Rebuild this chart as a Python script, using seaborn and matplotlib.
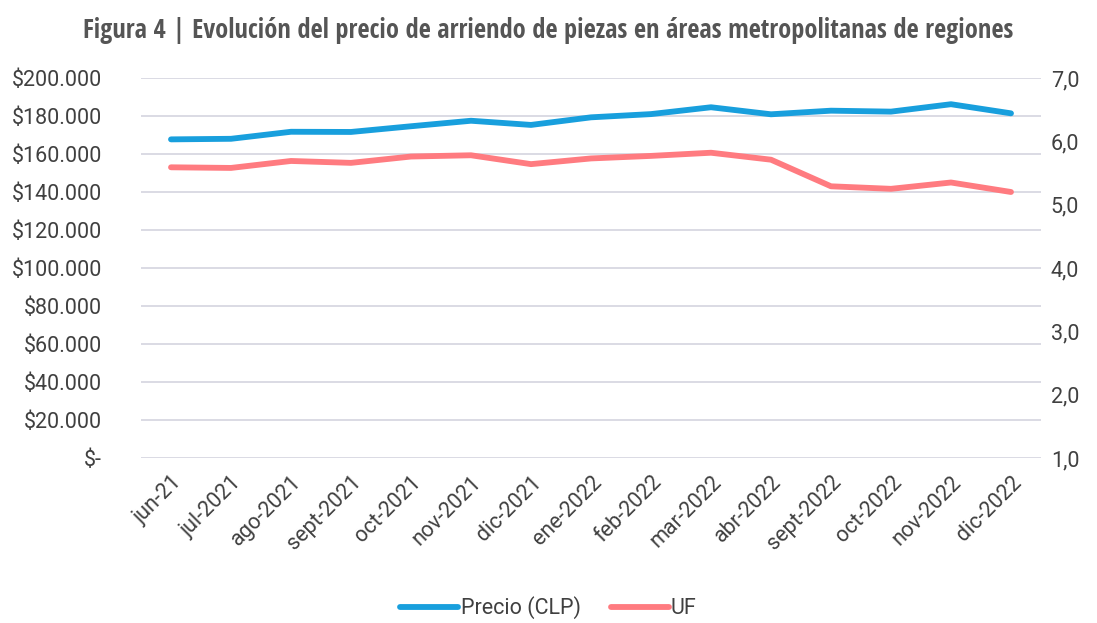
import numpy as np
import pandas as pd
import seaborn as sns
import matplotlib.pyplot as plt
from matplotlib.ticker import FuncFormatter
from matplotlib.lines import Line2D

# Data
meses = ['jun-21', 'jul-2021', 'ago-2021', 'sept-2021', 'oct-2021', 'nov-2021',
         'dic-2021', 'ene-2022', 'feb-2022', 'mar-2022', 'abr-2022', 'sept-2022',
         'oct-2022', 'nov-2022', 'dic-2022']
precio_clp = [167700, 168000, 171700, 171600, 174600, 177500, 175300, 179300,
              181000, 184600, 180900, 182800, 182300, 186200, 181400]
precio_uf = [5.59, 5.58, 5.69, 5.66, 5.76, 5.78, 5.64, 5.73, 5.77, 5.82,
             5.71, 5.29, 5.25, 5.35, 5.20]

azul = '#189FDD'
rojo = '#FF7B80'
gris = '#404040'

sns.set_theme(style='white')
plt.rcParams['font.family'] = ['Roboto', 'DejaVu Sans']

df = pd.DataFrame({'mes': meses, 'pos': np.arange(len(meses)),
                   'clp': precio_clp, 'uf': precio_uf})

fig = plt.figure(figsize=(10.97, 6.23), dpi=100)
ax = fig.add_axes([141 / 1097, 1 - 458 / 623, 900 / 1097, 380 / 623])
ax2 = ax.twinx()

sns.lineplot(data=df, x='pos', y='clp', ax=ax, color=azul, linewidth=4.2,
             solid_capstyle='round')
sns.lineplot(data=df, x='pos', y='uf', ax=ax2, color=rojo, linewidth=4.2,
             solid_capstyle='round')

ax.set_xlim(-0.5, len(meses) - 0.5)
ax.set_ylim(0, 200000)
ax.set_yticks(np.arange(0, 200001, 20000))
ax.yaxis.set_major_formatter(FuncFormatter(
    lambda v, p: '$-' if v == 0 else '${:,.0f}'.format(v).replace(',', '.')))
ax2.set_ylim(1, 7)
ax2.set_yticks(np.arange(1, 7.01, 1))
ax2.yaxis.set_major_formatter(FuncFormatter(
    lambda v, p: '{:.1f}'.format(v).replace('.', ',')))

ax.yaxis.grid(True, color='#D8D8E2', linewidth=1.3)
ax.set_axisbelow(True)
for a in (ax, ax2):
    for s in a.spines.values():
        s.set_visible(False)
    a.set_xlabel('')
    a.set_ylabel('')
    a.tick_params(length=0, labelsize=15.5, labelcolor=gris)
ax.tick_params(axis='y', pad=28)
ax2.tick_params(axis='y', pad=7)

ax.set_xticks(df['pos'])
ax.set_xticklabels(meses, rotation=45, ha='right', rotation_mode='anchor')
ax.tick_params(axis='x', pad=10)

fig.text(0.5, 1 - 30 / 623,
         'Figura 4 | Evolución del precio de arriendo de piezas en áreas metropolitanas de regiones',
         ha='center', va='center', fontsize=19, fontweight='bold', color='#555555',
         family=['Open Sans Condensed', 'Lato', 'DejaVu Sans'])

handles = [Line2D([], [], color=azul, linewidth=4.2),
           Line2D([], [], color=rojo, linewidth=4.2)]
fig.legend(handles, ['Precio (CLP)', 'UF'], loc='center', ncol=2,
           bbox_to_anchor=(0.5, 1 - 608 / 623), frameon=False, fontsize=15.5,
           handlelength=2.7, handletextpad=0.1, columnspacing=1.4,
           labelcolor=gris)

fig.savefig('out.png', dpi=100, facecolor='white')
